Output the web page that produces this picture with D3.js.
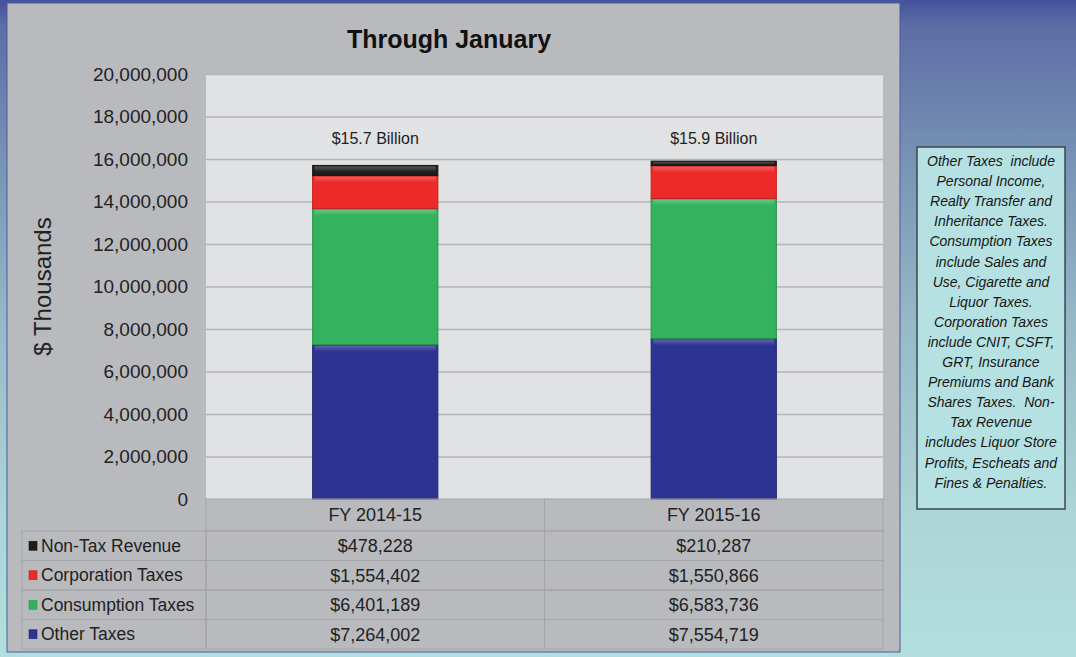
<!DOCTYPE html>
<html>
<head>
<meta charset="utf-8">
<script src="https://cdn.jsdelivr.net/npm/d3@7"></script>
<style>
  body { margin: 0; padding: 0; background: #b2dede; }
  svg { display: block; font-family: "Liberation Sans", Arial, sans-serif; }
</style>
</head>
<body>
<div id="chart"></div>
<script>
// data
var categories = ["FY 2014-15", "FY 2015-16"];
var seriesNames = ["Other Taxes", "Consumption Taxes", "Corporation Taxes", "Non-Tax Revenue"];
var otherTaxes = [7264002, 7554719];
var consumptionTaxes = [6401189, 6583736];
var corporationTaxes = [1554402, 1550866];
var nonTaxRevenue = [478228, 210287];
var totalLabels = ["$15.7 Billion", "$15.9 Billion"];
var yTicks = [0, 2000000, 4000000, 6000000, 8000000, 10000000, 12000000, 14000000, 16000000, 18000000, 20000000];
var seriesColors = ["#2c3391", "#33b35e", "#ec2a2a", "#1c1c1c"];
var noteLines = ["Other Taxes  include", "Personal Income,", "Realty Transfer and", "Inheritance Taxes.",
    "Consumption Taxes", "include Sales and", "Use, Cigarette and", "Liquor Taxes.",
    "Corporation Taxes", "include CNIT, CSFT,", "GRT, Insurance", "Premiums and Bank",
    "Shares Taxes.  Non-", "Tax Revenue", "includes Liquor Store", "Profits, Escheats and",
    "Fines & Penalties."];

RevenueChart = function(_parentElement){
    vis = this;
    this.parentElement = _parentElement;
    this.svgWidth = 1076;
    this.svgHeight = 657;
    this.plot = { left: 206, right: 883, top: 74, bottom: 499 };
    this.table = { left: 22, headerHeight: 32, rowHeight: 29.5 };
    this.initVis();
};

RevenueChart.prototype.initVis = function() {
    vis = this;

    vis.rows = categories.map(function(c, i) {
        return {
            cat: c,
            "Other Taxes": otherTaxes[i],
            "Consumption Taxes": consumptionTaxes[i],
            "Corporation Taxes": corporationTaxes[i],
            "Non-Tax Revenue": nonTaxRevenue[i]
        };
    });

    vis.initSVG();
    vis.initScales();
    vis.drawPlot();
    vis.drawTable();
    vis.drawNote();
};

RevenueChart.prototype.initSVG = function() {
    vis = this;

    vis.svg = d3.select("#" + vis.parentElement).append("svg")
        .attr("width", vis.svgWidth)
        .attr("height", vis.svgHeight);

    var defs = vis.svg.append("defs");
    var bg = defs.append("linearGradient")
        .attr("id", "bgGrad")
        .attr("x1", 0).attr("y1", 0).attr("x2", 0).attr("y2", 1);
    [["0", "#45529c"], ["0.04", "#5d6da6"], ["0.25", "#7894b5"], ["0.5", "#97bac8"], ["0.78", "#abd5d6"], ["1", "#b3dede"]]
        .forEach(function(s) { bg.append("stop").attr("offset", s[0]).attr("stop-color", s[1]); });

    var gloss = defs.append("linearGradient")
        .attr("id", "gloss")
        .attr("x1", 0).attr("y1", 0).attr("x2", 0).attr("y2", 1);
    gloss.append("stop").attr("offset", 0).attr("stop-color", "#fff").attr("stop-opacity", 0.25);
    gloss.append("stop").attr("offset", 1).attr("stop-color", "#fff").attr("stop-opacity", 0);

    vis.svg.append("rect")
        .attr("width", vis.svgWidth)
        .attr("height", vis.svgHeight)
        .attr("fill", "url(#bgGrad)");

    // gray chart panel
    vis.svg.append("rect")
        .attr("x", 7).attr("y", 3)
        .attr("width", 893).attr("height", 649)
        .attr("fill", "#b9babe")
        .attr("stroke", "#4c5aa0")
        .attr("stroke-width", 1);
};

RevenueChart.prototype.initScales = function() {
    vis = this;

    this.x = d3.scaleBand()
        .domain(categories)
        .range([vis.plot.left, vis.plot.right])
        .padding(0);

    this.barWidth = vis.x.bandwidth() * 0.37;

    this.y = d3.scaleLinear()
        .domain([0, 20000000])
        .range([vis.plot.bottom, vis.plot.top]);

    this.color = d3.scaleOrdinal()
        .domain(seriesNames)
        .range(seriesColors);
};

RevenueChart.prototype.drawPlot = function() {
    vis = this;

    vis.svg.append("rect")
        .attr("x", vis.plot.left)
        .attr("y", vis.plot.top)
        .attr("width", vis.plot.right - vis.plot.left)
        .attr("height", vis.plot.bottom - vis.plot.top)
        .attr("fill", "#e1e2e4");

    // gridlines + tick labels
    var yAxis = d3.axisLeft(vis.y)
        .tickValues(yTicks)
        .tickSize(-(vis.plot.right - vis.plot.left))
        .tickPadding(18)
        .tickFormat(d3.format(","));

    var axisG = vis.svg.append("g")
        .attr("transform", "translate(" + vis.plot.left + ",0)")
        .call(yAxis);
    axisG.select(".domain").remove();
    axisG.selectAll(".tick line")
        .attr("stroke", "#b4b5b9")
        .attr("stroke-width", 1.5)
        .attr("opacity", function(d) { return d === 0 ? 0 : 1; });
    axisG.selectAll(".tick text")
        .attr("font-size", "19px")
        .attr("font-family", "Liberation Sans, Arial, sans-serif")
        .attr("fill", "#222");

    // stacked bars
    var stacked = d3.stack().keys(seriesNames)(vis.rows);

    var layers = vis.svg.append("g").selectAll("g")
        .data(stacked)
        .enter().append("g")
        .attr("fill", function(d) { return vis.color(d.key); });

    layers.selectAll("rect.seg")
        .data(function(d) { return d; })
        .enter().append("rect")
        .attr("class", "seg")
        .attr("x", function(d) { return vis.x(d.data.cat) + (vis.x.bandwidth() - vis.barWidth) / 2; })
        .attr("y", function(d) { return vis.y(d[1]); })
        .attr("width", vis.barWidth)
        .attr("height", function(d) { return vis.y(d[0]) - vis.y(d[1]); })
        .attr("stroke", function() { return d3.color(d3.select(this.parentNode).attr("fill")).darker(0.6); })
        .attr("stroke-width", 1);

    // little bevel highlight at top of each segment
    layers.selectAll("rect.hl")
        .data(function(d) { return d; })
        .enter().append("rect")
        .attr("class", "hl")
        .attr("x", function(d) { return vis.x(d.data.cat) + (vis.x.bandwidth() - vis.barWidth) / 2 + 2; })
        .attr("y", function(d) { return vis.y(d[1]) + 1; })
        .attr("width", vis.barWidth - 4)
        .attr("height", function(d) { return Math.min(6, Math.max(0, vis.y(d[0]) - vis.y(d[1]) - 2)); })
        .attr("fill", "url(#gloss)");

    // totals
    vis.svg.append("g").selectAll("text")
        .data(categories)
        .enter().append("text")
        .attr("x", function(d) { return vis.x(d) + vis.x.bandwidth() / 2; })
        .attr("y", vis.y(17000000) + 6)
        .attr("text-anchor", "middle")
        .attr("font-size", "16px")
        .attr("fill", "#222")
        .text(function(d, i) { return totalLabels[i]; });

    // title
    vis.svg.append("text")
        .attr("x", 449)
        .attr("y", 48)
        .attr("text-anchor", "middle")
        .attr("font-size", "25px")
        .attr("font-weight", "bold")
        .attr("fill", "#111")
        .text("Through January");

    // y label
    vis.svg.append("text")
        .attr("transform", "translate(51," + (vis.plot.top + vis.plot.bottom) / 2 + ") rotate(-90)")
        .attr("text-anchor", "middle")
        .attr("font-size", "24px")
        .attr("fill", "#222")
        .text("$ Thousands");
};

RevenueChart.prototype.drawTable = function() {
    vis = this;

    var t = vis.table;
    var lineColor = "#a3a4a8";
    var g = vis.svg.append("g");
    var rowsTop = vis.plot.bottom + t.headerHeight;

    // header cells
    categories.forEach(function(c) {
        g.append("rect")
            .attr("x", vis.x(c))
            .attr("y", vis.plot.bottom)
            .attr("width", vis.x.bandwidth())
            .attr("height", t.headerHeight)
            .attr("fill", "none")
            .attr("stroke", lineColor);
        g.append("text")
            .attr("x", vis.x(c) + vis.x.bandwidth() / 2)
            .attr("y", vis.plot.bottom + t.headerHeight / 2)
            .attr("dy", "0.35em")
            .attr("text-anchor", "middle")
            .attr("font-size", "18px")
            .attr("fill", "#222")
            .text(c);
    });

    // series rows, top row is last stacked series
    var order = seriesNames.slice().reverse();
    var values = {
        "Other Taxes": otherTaxes,
        "Consumption Taxes": consumptionTaxes,
        "Corporation Taxes": corporationTaxes,
        "Non-Tax Revenue": nonTaxRevenue
    };
    var fmt = d3.format(",");

    order.forEach(function(name, i) {
        var ry = rowsTop + i * t.rowHeight;
        g.append("rect")
            .attr("x", t.left)
            .attr("y", ry)
            .attr("width", vis.plot.left - t.left)
            .attr("height", t.rowHeight)
            .attr("fill", "none")
            .attr("stroke", lineColor);

        g.append("rect")
            .attr("x", t.left + 7)
            .attr("y", ry + t.rowHeight / 2 - 4.5)
            .attr("width", 8)
            .attr("height", 9)
            .attr("fill", vis.color(name))
            .attr("stroke", d3.color(vis.color(name)).darker(0.5))
            .attr("stroke-width", 0.6);

        g.append("text")
            .attr("x", t.left + 19)
            .attr("y", ry + t.rowHeight / 2)
            .attr("dy", "0.35em")
            .attr("font-size", "17.5px")
            .attr("fill", "#222")
            .text(name);

        categories.forEach(function(c, j) {
            g.append("rect")
                .attr("x", vis.x(c))
                .attr("y", ry)
                .attr("width", vis.x.bandwidth())
                .attr("height", t.rowHeight)
                .attr("fill", "none")
                .attr("stroke", lineColor);
            g.append("text")
                .attr("x", vis.x(c) + vis.x.bandwidth() / 2)
                .attr("y", ry + t.rowHeight / 2)
                .attr("dy", "0.35em")
                .attr("text-anchor", "middle")
                .attr("font-size", "18px")
                .attr("fill", "#222")
                .text("$" + fmt(values[name][j]));
        });
    });
};

RevenueChart.prototype.drawNote = function() {
    vis = this;

    var box = { x: 917, y: 147, w: 148, h: 362 };
    vis.svg.append("rect")
        .attr("x", box.x).attr("y", box.y)
        .attr("width", box.w).attr("height", box.h)
        .attr("fill", "#b6e1e2")
        .attr("stroke", "#3b4750")
        .attr("stroke-width", 1.5);

    vis.svg.append("g").selectAll("text")
        .data(noteLines)
        .enter().append("text")
        .attr("x", box.x + box.w / 2)
        .attr("y", function(d, i) { return 166 + i * 20.1; })
        .attr("text-anchor", "middle")
        .attr("font-size", "14px")
        .attr("font-style", "italic")
        .attr("fill", "#161616")
        .style("white-space", "pre")
        .text(function(d) { return d; });
};

new RevenueChart("chart");
</script>
</body>
</html>
